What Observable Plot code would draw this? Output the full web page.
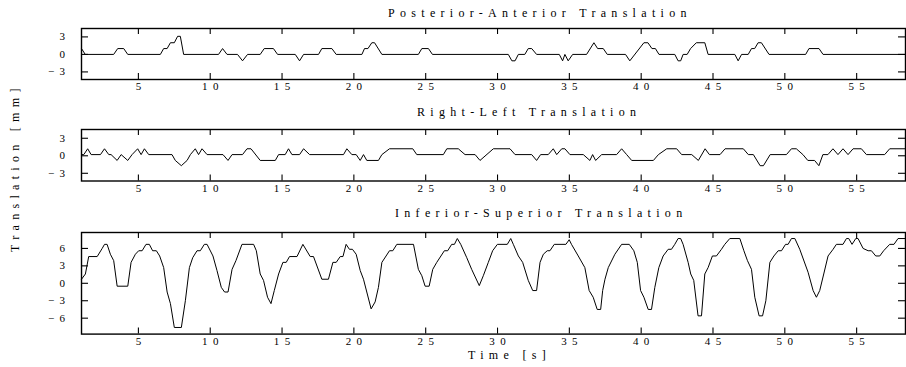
<!DOCTYPE html>
<html>
<head>
<meta charset="utf-8">
<script src="https://cdn.jsdelivr.net/npm/d3@7"></script>
<script src="https://cdn.jsdelivr.net/npm/@observablehq/plot@0.6"></script>
<style>
  html, body { margin: 0; padding: 0; background: #fff; overflow: hidden; }
  #chart { position: relative; width: 906px; height: 367px; background: #fff; }
  #chart svg { position: absolute; left: 0; overflow: visible; }
  #chart svg text { font-family: 'Liberation Serif', 'DejaVu Serif', serif !important; }
  .lbl { position: absolute; white-space: nowrap; font-family: 'Liberation Serif', 'DejaVu Serif', serif; font-size: 12px; line-height: 12px; letter-spacing: 5.3px; color: #000; }
</style>
</head>
<body>
<div id="chart"></div>
<script>
// ---- data (time in s, translation in mm) ----
const xTicks = [5, 10, 15, 20, 25, 30, 35, 40, 45, 50, 55];
const smallYTicks = [-3, 0, 3];
const bigYTicks = [-6, -3, 0, 3, 6];
const titles = ["Posterior-Anterior Translation", "Right-Left Translation", "Inferior-Superior Translation"];
const xLabel = "Time [s]";
const yLabel = "Translation [mm]";

const paTime = [1.04,1.3,3.28,3.56,3.98,4.26,6.53,6.76,7.0,7.23,7.5,7.73,7.92,8.15,10.58,10.86,11.17,11.9,12.25,12.6,13.48,13.76,14.4,14.69,15.92,16.22,16.5,17.54,17.77,18.47,18.77,20.56,20.74,20.98,21.25,21.44,21.95,24.49,24.73,25.19,25.47,30.75,31.0,31.22,31.45,31.9,32.14,32.38,32.72,34.3,34.53,34.69,34.92,35.23,36.2,36.71,36.97,37.36,37.64,38.91,39.21,40.19,40.47,40.75,40.99,41.24,42.34,42.57,42.75,42.92,43.2,43.44,43.84,44.43,44.66,46.52,46.75,46.99,47.45,47.68,47.9,48.14,48.37,48.9,51.45,51.68,52.38,52.66,58.4];
const paValue = [1,0,0,1,1,0,0,1,1,2,2,3.1,3.1,0,0,1,0,0,-1.1,0,0,1,1,0,0,-1.1,0,0,1,1,0,0,1,1,2,2,0,0,1,1,0,0,-1.1,-1.1,0,0,1,1,0,0,-1.1,0,-1.1,0,0,2,1,1,0,0,-1.1,2,2,1,1,0,0,-1.1,-1.1,0,0,1,2,2,0,0,-1.1,0,0,1,1,2,2,0,0,1,1,0,0];

const rlTime = [1.04,1.2,1.47,1.71,2.36,2.64,2.94,3.1,3.52,3.8,4.26,4.56,4.95,5.19,5.42,5.72,7.34,7.57,7.99,8.39,8.62,8.96,9.19,9.43,9.78,10.89,11.24,11.52,12.25,12.56,12.84,13.48,14.53,14.76,15.22,15.45,15.69,16.22,16.5,16.92,19.28,19.51,19.86,20.16,20.44,20.67,20.9,21.71,21.95,22.48,24.1,24.38,26.23,26.47,27.27,27.74,28.44,28.78,29.71,30.87,31.22,32.38,32.72,33.0,33.53,33.88,34.12,34.47,34.69,35.04,35.97,36.43,36.62,36.83,37.25,38.29,38.64,38.99,39.34,40.85,41.2,41.78,42.47,42.82,43.52,43.98,44.45,44.75,45.49,45.84,47.11,47.46,47.81,48.28,48.51,48.98,50.11,50.46,50.8,51.26,51.6,52.07,52.37,52.65,53.0,53.35,53.7,54.05,54.4,54.75,55.33,55.68,56.95,57.3,58.4];
const rlValue = [0.2,0.2,1.2,0.2,0.2,1.2,0.2,0.2,-0.8,0.2,-0.8,0.2,1.2,0.2,1.2,0.2,0.2,-0.8,-1.7,-0.8,0.2,1.2,0.2,1.2,0.2,0.2,-0.8,0.2,0.2,1.2,1.2,-0.8,-0.8,0.2,0.2,1.2,0.2,0.2,1.2,0.2,0.2,1.2,0.2,0.2,-0.8,0.2,-0.8,-0.8,0.2,1.2,1.2,0.2,0.2,1.2,1.2,0.2,0.2,-0.8,1.2,1.2,0.2,0.2,-0.8,0.2,0.2,1.2,0.2,1.2,1.2,0.2,0.2,-0.8,0.2,-0.8,0.2,0.2,1.2,0.2,-0.8,-0.8,0.2,1.2,1.2,0.2,0.2,-0.8,1.2,0.2,0.2,1.2,1.2,0.2,0.2,-1.7,-1.7,0.2,0.2,1.2,1.2,0.2,-0.8,-0.8,-1.7,0.2,0.2,1.2,0.2,1.2,0.2,1.2,1.2,0.2,0.2,1.2,1.2];

const isTime = [1.04,1.31,1.54,2.13,2.48,2.64,2.82,3.05,3.28,3.52,4.26,4.49,4.79,5.02,5.26,5.53,5.76,5.99,6.25,6.48,6.76,7.0,7.23,7.5,7.99,8.27,8.55,8.78,9.08,9.31,9.59,9.78,10.19,10.47,10.77,11.0,11.24,11.52,11.79,12.21,13.02,13.21,13.48,13.71,13.99,14.23,14.46,14.76,15.06,15.29,15.52,16.04,16.45,16.96,17.19,17.77,18.23,18.54,18.77,19.05,19.24,19.46,19.69,19.9,20.16,20.44,20.67,21.2,21.48,21.71,21.95,22.48,22.71,22.99,24.15,24.49,24.73,24.96,25.24,25.49,25.77,26.3,26.53,26.81,27.0,27.2,27.44,27.86,28.2,28.73,29.01,29.36,29.66,29.99,30.68,30.92,31.1,31.45,31.75,32.14,32.45,32.72,32.96,33.19,33.46,33.65,33.95,34.76,34.99,35.15,35.62,36.08,36.38,36.66,36.94,37.18,37.32,37.48,37.71,38.17,38.64,39.17,39.49,39.73,39.96,40.19,40.49,40.72,40.95,41.23,41.53,41.88,42.11,42.34,42.57,42.75,42.92,43.27,43.45,43.66,43.96,44.2,44.43,44.66,44.96,45.24,45.59,45.82,46.17,46.87,47.15,47.4,47.68,47.91,48.21,48.45,48.68,48.96,49.24,49.54,49.77,50.05,50.23,50.46,50.7,51.04,51.62,51.97,52.2,52.43,52.71,53.01,53.36,53.59,54.05,54.29,54.45,54.68,54.94,55.1,55.45,55.8,56.03,56.33,56.61,56.88,57.3,57.6,57.88,58.4];
const isValue = [0.7,1.6,4.6,4.6,6,6.7,6.7,5,3.9,-0.5,-0.5,3.6,5,5.6,5.6,6.7,6.7,5.6,5.6,4.7,2.7,-1.5,-3.5,-7.6,-7.6,-3,2.7,4.4,5.6,5.6,6.7,6.7,4.7,2.2,-0.7,-1.5,-1.5,2.4,3.9,6.7,6.7,5.6,1.6,0.5,-2.4,-3.5,-1.25,1.6,3.6,3.6,4.6,4.6,6.7,4.6,4.6,0.7,0.7,3.6,3.6,4.6,4.6,6.7,5.85,5.85,5,2.2,0.7,-4.4,-3.2,-0.7,3.6,5.6,5.6,6.7,6.7,2.4,1.3,-0.5,-0.5,2.4,3.6,5.6,5.6,6.7,6.7,7.7,6.7,4.4,2.4,-0.4,1.3,3.6,5.6,6.7,6.7,7.7,6.7,4.7,3.6,0.5,-1.25,-1.25,3.6,5,5.6,5.6,6.7,6.7,7.5,6.7,4.7,2.7,-1.25,-2.4,-4.5,-4.5,-1.25,0.7,2.7,5,6.7,6.7,5.6,3.6,-1.25,-2.4,-4.5,-4.5,-0.7,2.7,4.7,5.85,5.85,6.7,7.7,7.7,6.7,3.6,1.6,0.5,-5.6,-5.6,1.6,2.7,4.7,4.7,5.85,6.7,7.7,7.7,5.6,3.9,2.4,-2.4,-5.6,-5.6,-3,3.6,4.7,5.6,5.6,6.7,6.7,7.7,7.7,5.85,1.9,-1.25,-2.4,-1.25,1.6,4.7,5.85,6.7,6.7,7.7,7.7,6.7,7.7,7.7,6.0,5.6,5.6,4.7,4.7,5.6,6.7,6.7,7.7,7.7];

// ---- drawing ----
const W = 906, ML = 81, MR = 1, MT = 10, MB = 22;
const xDomain = [1.04, 58.4];
const fw = W - ML - MR;
const fmt = d => d < 0 ? "\u2212" + (-d) : String(d);
const serif = "'Liberation Serif', 'DejaVu Serif', serif";

function panel(time, value, yDomain, yTicks, frameH, top) {
  const data = time.map((t, i) => ({t, v: value[i]}));
  const svg = Plot.plot({
    width: W, height: MT + frameH + MB,
    marginLeft: ML, marginRight: MR, marginTop: MT, marginBottom: MB,
    x: {domain: xDomain},
    y: {domain: yDomain},
    style: {fontFamily: serif, fontSize: "11px", letterSpacing: "5.4px", color: "#000", background: "transparent"},
    marks: [
      Plot.line(data, {x: "t", y: "v", stroke: "#000", strokeWidth: 1}),
      Plot.tickX(xTicks, {x: d => d, insetTop: frameH - 6, stroke: "#000", strokeWidth: 1.1}),
      Plot.tickX(xTicks, {x: d => d, insetBottom: frameH - 6, stroke: "#000", strokeWidth: 1.1}),
      Plot.tickY(yTicks, {y: d => d, insetRight: fw - 7, stroke: "#000", strokeWidth: 1.1}),
      Plot.tickY(yTicks, {y: d => d, insetLeft: fw - 7, stroke: "#000", strokeWidth: 1.1}),
      Plot.frame({stroke: "#000", strokeWidth: 1.4}),
      Plot.axisX(xTicks, {tickSize: 0, tickPadding: 3, dx: 2.7, label: null, tickFormat: fmt, fontFamily: serif}),
      Plot.axisY(yTicks, {tickSize: 0, tickPadding: 11, label: null, tickFormat: fmt, fontFamily: serif})
    ]
  });
  svg.style.top = (top - MT) + "px";
  document.getElementById("chart").appendChild(svg);
}

panel(paTime, paValue, [-4.3, 4.44], smallYTicks, 51, 27.5);
panel(rlTime, rlValue, [-4.32, 4.5], smallYTicks, 51.5, 128.5);
panel(isTime, isValue, [-8.74, 8.74], bigYTicks, 101.6, 231.7);

function label(text, left, top, rotate) {
  const d = document.createElement("div");
  d.className = "lbl";
  d.textContent = text;
  d.style.left = left + "px";
  d.style.top = top + "px";
  if (rotate) {
    d.style.transformOrigin = "0 0";
    d.style.transform = "rotate(-90deg)";
  }
  document.getElementById("chart").appendChild(d);
}
label(titles[0], 388, 7);
label(titles[1], 417, 106);
label(titles[2], 395, 207);
label(xLabel, 468, 349);
label(yLabel, 9, 252, true);
</script>
</body>
</html>
